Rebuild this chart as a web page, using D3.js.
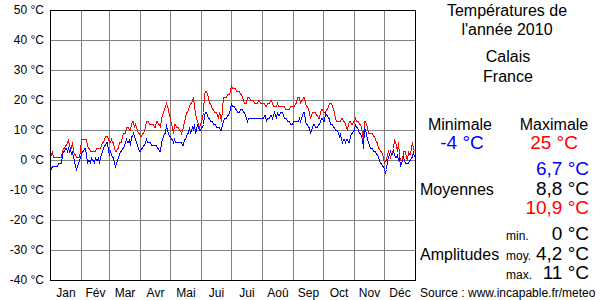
<!DOCTYPE html>
<html>
<head>
<meta charset="utf-8">
<script src="https://cdn.jsdelivr.net/npm/d3@7"></script>
<style>
  body { margin: 0; background: #fff; }
  svg { display: block; font-family: "Liberation Sans", Arial, sans-serif; }
</style>
</head>
<body>
<svg id="chart" width="600" height="300"></svg>
<script>
// Month labels and lengths (2010)
const months = ['Jan', 'Fév', 'Mar', 'Avr', 'Mai', 'Jui', 'Jui', 'Aoû', 'Sep', 'Oct', 'Nov', 'Déc'];
const monthDays = [31, 28, 31, 30, 31, 30, 31, 31, 30, 31, 30, 31];
const yTicks = [-40, -30, -20, -10, 0, 10, 20, 30, 40, 50];

// Daily maximum temperatures (°C), one line per month
const tmax = [
  3,2,3,1,1,1,1,1,1,1,1,1,3,4,4,5,5,6,7,5,4,4,6,3,2,2,1,1,1,1,3,
  7,7,7,7,7,7,5,4,4,3,3,3,3,3,3,4,4,4,4,4,5,6,6,7,8,8,8,7,
  6,6,7,6,6,4,3,3,4,4,6,6,6,8,9,9,9,11,11,11,10,10,12,13,13,11,12,11,10,9,9,
  8,8,9,9,10,11,13,13,13,12,12,12,12,12,11,11,13,13,12,12,11,14,15,16,17,18,19,18,17,15,
  14,12,11,9,12,12,11,11,11,10,10,9,10,11,13,14,16,16,17,18,19,19,20,21,18,16,14,13,12,11,12,
  13,14,16,22,23,23,22,21,19,19,18,17,17,16,16,16,15,14,16,15,13,17,21,21,21,21,22,22,22,23,
  25,24,24,24,24,23,23,23,23,22,22,21,20,19,19,19,21,21,21,20,20,20,20,19,19,19,19,20,20,19,19,
  19,19,19,18,18,19,19,19,20,20,19,18,18,18,18,19,18,18,18,18,18,18,18,17,17,17,17,17,18,18,18,
  18,18,19,19,21,21,21,19,20,20,21,21,19,18,18,17,16,14,15,16,16,16,16,15,15,14,14,16,17,17,
  16,16,16,17,17,18,19,19,19,18,17,16,14,13,13,13,13,13,14,14,13,13,12,11,10,12,13,13,12,12,13,
  13,14,13,13,13,12,12,11,9,7,13,13,12,11,9,9,9,9,9,8,8,7,6,6,4,4,3,3,2,1,
  -1,0,0,2,3,2,1,2,2,4,7,6,5,3,6,2,0,0,0,3,3,3,1,0,3,2,2,4,6,4,3
];

// Daily minimum temperatures (°C), one line per month
const tmin = [
  -1,-3,-2,-2,-2,-2,-2,-2,-1,-1,-1,-1,2,3,3,4,4,3,4,3,4,2,3,1,0,-2,-3,-2,-1,0,1,
  2,3,3,4,4,2,-1,0,0,-1,1,0,0,-1,1,0,0,1,-1,1,2,3,4,5,5,6,6,3,
  2,3,2,1,1,-1,-2,-1,0,1,2,3,3,4,4,5,6,7,6,6,7,5,8,8,9,8,7,6,5,4,3,
  3,4,4,5,5,6,7,6,6,6,6,5,5,5,5,5,5,4,4,3,3,6,7,8,9,9,12,10,9,8,
  8,7,7,6,7,6,6,6,6,6,6,6,5,5,7,7,8,9,9,11,9,10,11,10,12,9,10,12,11,10,10,
  11,11,12,15,16,16,15,14,14,13,13,13,12,12,12,11,11,11,11,10,10,12,13,14,14,14,15,15,16,17,
  19,18,18,18,17,17,16,16,16,17,17,17,16,16,15,14,13,14,14,14,14,14,14,14,14,14,14,14,14,14,14,
  14,14,15,15,13,14,14,14,15,15,14,15,16,15,14,16,15,15,16,16,16,15,14,14,14,13,13,13,12,12,12,
  13,13,13,13,13,13,14,13,14,15,16,16,13,12,12,11,11,9,10,11,12,12,11,11,11,12,12,13,14,14,
  13,13,16,15,15,14,14,12,12,12,11,11,10,10,10,9,8,9,7,6,7,7,6,7,7,6,6,8,9,9,10,
  10,12,11,11,10,9,9,8,7,4,11,10,9,7,6,5,4,4,4,3,3,3,2,2,1,0,-1,-1,-2,-2,
  -3,-4,-3,0,1,2,3,2,2,3,2,1,1,2,0,1,-2,-1,0,1,0,-1,-1,-1,-1,0,0,1,1,3,1
];

// Side panel figures as printed
const titleLines = ['Températures de', "l'année 2010"];
const placeLines = ['Calais', 'France'];
const extremes = { min: '-4 °C', max: '25 °C' };
const averages = ['6,7 °C', '8,8 °C', '10,9 °C'];
const amplitudes = [['min.', '0 °C'], ['moy.', '4,2 °C'], ['max.', '11 °C']];

const svg = d3.select('#chart');

// Scales: one pixel per day
const x = d3.scaleLinear().domain([0, 365]).range([50, 415]);
const y = d3.scaleLinear().domain([-40, 50]).range([280, 10]);

const monthStarts = d3.cumsum([0].concat(monthDays.slice(0, -1)));

// Horizontal grid + y labels
const yAxis = svg.append('g')
  .attr('transform', `translate(${x(0)},0)`)
  .call(d3.axisLeft(y)
    .tickValues(yTicks)
    .tickSize(-(x(365) - x(0)))
    .tickPadding(6)
    .tickFormat(d => `${d} °C`));
yAxis.select('.domain').remove();
yAxis.selectAll('line').attr('stroke', '#808080').attr('shape-rendering', 'crispEdges');
yAxis.selectAll('text')
  .attr('font-size', 12)
  .attr('font-family', '"Liberation Sans", Arial, sans-serif')
  .attr('fill', '#000');

// Vertical month grid
svg.append('g')
  .selectAll('line')
  .data(monthStarts.slice(1))
  .enter()
  .append('line')
  .attr('x1', d => x(d) + 0.5)
  .attr('x2', d => x(d) + 0.5)
  .attr('y1', y(50))
  .attr('y2', y(-40))
  .attr('stroke', '#808080')
  .attr('shape-rendering', 'crispEdges');

// Month labels
const xAxis = svg.append('g')
  .attr('transform', `translate(0,${y(-40)})`)
  .call(d3.axisBottom(x)
    .tickValues(monthStarts.map((s, i) => s + monthDays[i] / 2))
    .tickSize(0)
    .tickPadding(8)
    .tickFormat((d, i) => months[i]));
xAxis.select('.domain').remove();
xAxis.selectAll('text')
  .attr('font-size', 12)
  .attr('font-family', '"Liberation Sans", Arial, sans-serif')
  .attr('fill', '#000');

// Temperature lines
const line = d3.line()
  .x((d, i) => x(i) + 0.5)
  .y(d => y(d) + 0.5);

svg.append('path')
  .datum(tmax)
  .attr('d', line)
  .attr('fill', 'none')
  .attr('stroke', '#ff0000')
  .attr('stroke-width', 1)
  .attr('shape-rendering', 'crispEdges');

svg.append('path')
  .datum(tmin)
  .attr('d', line)
  .attr('fill', 'none')
  .attr('stroke', '#0000ff')
  .attr('stroke-width', 1)
  .attr('shape-rendering', 'crispEdges');

// Frame
svg.append('rect')
  .attr('x', x(0) + 0.5)
  .attr('y', y(50) + 0.5)
  .attr('width', x(365) - x(0))
  .attr('height', y(-40) - y(50))
  .attr('fill', 'none')
  .attr('stroke', '#000')
  .attr('shape-rendering', 'crispEdges');

// Side panel
function label(txt, px, py, opts = {}) {
  svg.append('text')
    .attr('x', px)
    .attr('y', py)
    .attr('text-anchor', opts.anchor || 'start')
    .attr('font-size', opts.size || 16)
    .attr('fill', opts.color || '#000')
    .text(txt);
}

label(titleLines[0], 507, 16, { anchor: 'middle' });
label(titleLines[1], 507, 35, { anchor: 'middle' });
label(placeLines[0], 508, 62, { anchor: 'middle' });
label(placeLines[1], 508, 82, { anchor: 'middle' });

label('Minimale', 460, 130, { anchor: 'middle' });
label('Maximale', 554, 130, { anchor: 'middle' });
label(extremes.min, 462, 149, { anchor: 'middle', size: 19, color: '#0000ff' });
label(extremes.max, 554, 149, { anchor: 'middle', size: 19, color: '#ff0000' });

label('Moyennes', 420, 195);
label(averages[0], 589, 175, { anchor: 'end', size: 19, color: '#0000ff' });
label(averages[1], 589, 195, { anchor: 'end', size: 19 });
label(averages[2], 589, 214, { anchor: 'end', size: 19, color: '#ff0000' });

label('Amplitudes', 420, 260);
const ampY = [240, 260, 279];
amplitudes.forEach(([k, v], i) => {
  label(k, 506, ampY[i], { size: 12 });
  label(v, 589, ampY[i], { anchor: 'end', size: 19 });
});

label('Source : www.incapable.fr/meteo', 420, 297, { size: 12 });
</script>
</body>
</html>
